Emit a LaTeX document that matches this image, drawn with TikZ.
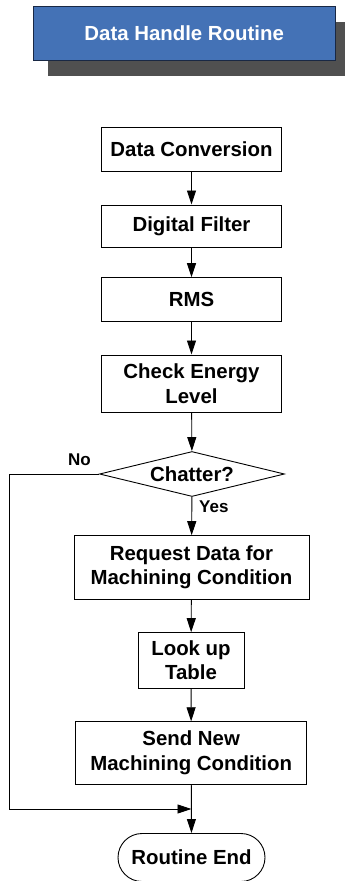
\documentclass[tikz,border=0pt]{standalone}
\usepackage{fontspec}
\setmainfont{Liberation Sans}
\usepackage{tikz}
\usetikzlibrary{
    arrows.meta,
    shapes.geometric,
    shapes.misc
}

\definecolor{titleblue}{RGB}{68,114,182}
\definecolor{titleline}{RGB}{25,40,68}
\definecolor{shadowgray}{RGB}{80,80,80}

\tikzset{
    stepbox/.style={draw, line width=0.9pt, align=center, inner sep=0pt,
        font=\fontsize{20.4}{24.5}\selectfont\bfseries},
    flow/.style={line width=0.9pt, -{Triangle[length=14pt,width=9pt]}},
    tag/.style={font=\fontsize{17}{20}\selectfont\bfseries, inner sep=0pt}
}

\begin{document}
\begin{tikzpicture}[x=1pt,y=-1pt]

\useasboundingbox (0,0) rectangle (345,881);

% Title
\fill[shadowgray] (48.3,21.7) rectangle (350,76);
\node[draw=titleline, fill=titleblue, text=white, line width=0.9pt,
      minimum width=301.7pt, minimum height=54pt, inner sep=0pt,
      font=\fontsize{20.4}{24.5}\selectfont\bfseries]
      (title) at (184.2,33.7) {Data Handle Routine};

% Steps
\node[stepbox, minimum width=179.3pt, minimum height=43.3pt] (conv) at (191.5,149.3) {Data Conversion};
\node[stepbox, minimum width=179.3pt, minimum height=42.7pt] (filt) at (191.5,226.3) {Digital Filter};
\node[stepbox, minimum width=179.3pt, minimum height=43.3pt] (rms) at (191.5,299.3) {RMS};
\node[stepbox, minimum width=179.3pt, minimum height=57.7pt] (check) at (191.5,383.8) {Check Energy\\Level};

% Decision
\node[stepbox, diamond, aspect=4.1, minimum width=185pt, minimum height=45pt] (chat) at (192,474) {Chatter?};

\node[stepbox, minimum width=235pt, minimum height=63.3pt] (req) at (191.5,567.3) {Request Data for\\Machining Condition};
\node[stepbox, minimum width=106pt, minimum height=55.3pt] (look) at (191,660.3) {Look up\\Table};
\node[stepbox, minimum width=231pt, minimum height=62.6pt] (send) at (191.2,753) {Send New\\Machining Condition};

% End
\node[stepbox, rounded rectangle, minimum width=147pt, minimum height=48pt] (end) at (191.5,857.5) {Routine End};

% Labels
\node[tag] (no) at (79.5,460) {No};
\node[tag, anchor=west] (yes) at (199,506.7) {Yes};

% Arrows
\draw[flow] (conv) -- (filt);
\draw[flow] (filt) -- (rms);
\draw[flow] (rms) -- (check);
\draw[flow] (check) -- (chat);
\draw[flow] (chat) -- (req);
\draw[flow] (req) -- (look);
\draw[flow] (look) -- (send);
\draw[flow] (send) -- (end);

\coordinate (lft) at (9.3,474);
\coordinate (join) at (191.5,809);
\draw[flow] (chat.west) -- (lft) |- (join);

\end{tikzpicture}
\end{document}
